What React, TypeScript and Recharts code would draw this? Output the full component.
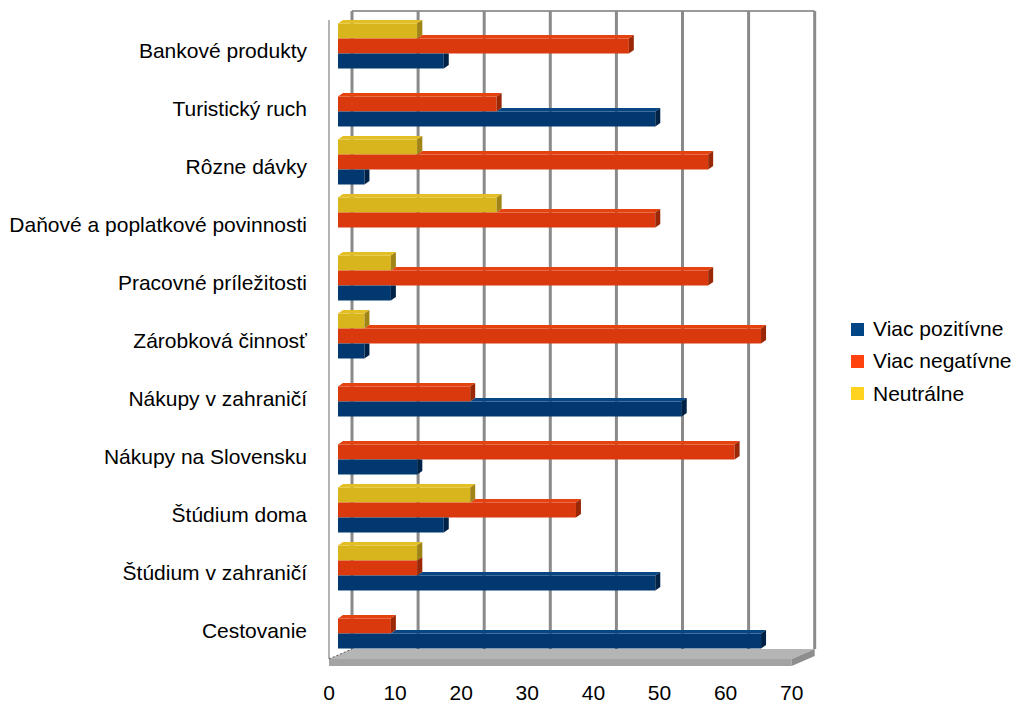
import { BarChart, Bar, XAxis, YAxis, CartesianGrid } from 'recharts';

const categories = [
  'Bankové produkty',
  'Turistický ruch',
  'Rôzne dávky',
  'Daňové a poplatkové povinnosti',
  'Pracovné príležitosti',
  'Zárobková činnosť',
  'Nákupy v zahraničí',
  'Nákupy na Slovensku',
  'Štúdium doma',
  'Štúdium v zahraničí',
  'Cestovanie',
];
const viacPozitivne = [16, 48, 4, 0, 8, 4, 52, 12, 16, 48, 64];
const viacNegativne = [44, 24, 56, 48, 56, 64, 20, 60, 36, 12, 8];
const neutralne = [12, 0, 12, 24, 8, 4, 0, 0, 20, 12, 0];
const xTicks = [0, 10, 20, 30, 40, 50, 60, 70];

const data = categories.map((name, i) => ({
  name,
  poz: viacPozitivne[i],
  neg: viacNegativne[i],
  neu: neutralne[i],
}));

const FONT = '"Liberation Sans", Arial, sans-serif';
const W = 1016;
const H = 704;
const PLOT_LEFT = 338;
const PLOT_RIGHT = 800.7;
const PLOT_TOP = 16.5;
const PLOT_BOTTOM = 654.5;
const X_AXIS_H = 40;

// depth of the 3D box: back wall sits right/up of the bars, axis labels sit left/down
const BACK_DX = 14;
const BACK_DY = -5.5;
const FRONT_DX = -9;
const FRONT_DY = 4.5;
// depth of each bar
const BAR_DX = 5;
const BAR_DY = -3.5;

const series = [
  { key: 'neu', upper: null, name: 'Neutrálne', legend: '#ffd320', front: '#d8b41d', top: '#e3bf24', side: '#a08416' },
  { key: 'neg', upper: 'neu', name: 'Viac negatívne', legend: '#ff420e', front: '#d9390c', top: '#e4420f', side: '#9a2806' },
  { key: 'poz', upper: 'neg', name: 'Viac pozitívne', legend: '#004586', front: '#00386f', top: '#064682', side: '#002246' },
];
const legendOrder = ['poz', 'neg', 'neu'];

const makeShape = (s) => (props) => {
  const { x, y, width, height, payload } = props;
  if (!width || width <= 0) return <g />;
  const value = payload[s.key];
  const upper = s.upper ? payload[s.upper] : 0;
  const end = x + width;
  const upperEnd = x + (width * upper) / value;
  const sx = Math.max(x, upperEnd);
  const covered = upperEnd > end;
  return (
    <g>
      <rect x={x} y={y} width={width} height={height} fill={s.front} />
      {sx < end && (
        <polygon
          points={`${sx},${y} ${end},${y} ${end + BAR_DX},${y + BAR_DY} ${sx + BAR_DX},${y + BAR_DY}`}
          fill={s.top}
        />
      )}
      <polygon
        points={
          covered
            ? `${end},${y} ${end + BAR_DX},${y} ${end + BAR_DX},${y + height + BAR_DY} ${end},${y + height}`
            : `${end},${y} ${end + BAR_DX},${y + BAR_DY} ${end + BAR_DX},${y + height + BAR_DY} ${end},${y + height}`
        }
        fill={s.side}
      />
    </g>
  );
};

const XTick = ({ x, payload }) => (
  <text x={x + FRONT_DX} y={PLOT_BOTTOM + 45} textAnchor="middle" fontSize={21} fontFamily={FONT} fill="#000">
    {payload.value}
  </text>
);

const YTick = ({ y, payload }) => (
  <text x={PLOT_LEFT - 31} y={y + 12.5} textAnchor="end" fontSize={21} fontFamily={FONT} fill="#000">
    {payload.value}
  </text>
);

const LegendBox = () => (
  <div style={{ position: 'absolute', left: 851, top: 313, fontFamily: FONT, fontSize: 21, color: '#000' }}>
    {legendOrder.map((k) => {
      const s = series.find((d) => d.key === k);
      return (
        <div key={k} style={{ display: 'flex', alignItems: 'center', height: 32.3, whiteSpace: 'nowrap' }}>
          <span style={{ width: 13, height: 13, background: s.legend, marginRight: 9, display: 'inline-block' }} />
          <span>{s.name}</span>
        </div>
      );
    })}
  </div>
);

// floor and frame of the 3D box
const Box = () => {
  const backL = PLOT_LEFT + BACK_DX;
  const backR = PLOT_RIGHT + BACK_DX;
  const frontL = PLOT_LEFT + FRONT_DX;
  const frontR = PLOT_RIGHT + FRONT_DX;
  const backY = PLOT_BOTTOM + BACK_DY;
  const frontY = PLOT_BOTTOM + FRONT_DY;
  const topY = PLOT_TOP + BACK_DY;
  return (
    <svg width={W} height={H} style={{ position: 'absolute', left: 0, top: 0 }}>
      <line x1={backL} y1={topY} x2={backR} y2={topY} stroke="#9a9a9a" strokeWidth={2} />
      <line x1={frontL} y1={PLOT_TOP + 3.5} x2={frontL} y2={frontY} stroke="#9a9a9a" strokeWidth={1.5} />
      <polygon points={`${backL},${backY} ${backR},${backY} ${frontR},${frontY} ${frontL},${frontY}`} fill="#b5b5b5" />
      <rect x={frontL} y={frontY} width={frontR - frontL} height={7} fill="#a3a3a3" />
      <polygon points={`${frontR},${frontY} ${backR},${backY} ${backR},${backY + 7} ${frontR},${frontY + 7}`} fill="#8e8e8e" />
      <line x1={frontL} y1={frontY} x2={backL} y2={backY} stroke="#555" strokeWidth={1} strokeDasharray="2 2" />
    </svg>
  );
};

export default function App() {
  return (
    <div style={{ position: 'absolute', left: 0, top: 0, width: W, height: H, background: '#fff' }}>
      <style>{`.recharts-cartesian-grid { transform: translate(${BACK_DX}px, ${BACK_DY}px); }`}</style>
      <Box />
      <div style={{ position: 'absolute', left: 0, top: 0 }}>
        <BarChart
          width={W}
          height={H}
          data={data}
          layout="vertical"
          barSize={15}
          barGap={0}
          margin={{ top: PLOT_TOP, right: W - PLOT_RIGHT, bottom: H - PLOT_BOTTOM - X_AXIS_H, left: 0 }}
        >
          <CartesianGrid horizontal={false} stroke="#8a8a8a" strokeWidth={3} />
          <XAxis
            type="number"
            domain={[0, 70]}
            ticks={xTicks}
            height={X_AXIS_H}
            axisLine={false}
            tickLine={false}
            tick={<XTick />}
          />
          <YAxis type="category" dataKey="name" width={PLOT_LEFT} axisLine={false} tickLine={false} tick={<YTick />} interval={0} />
          {series.map((s) => (
            <Bar key={s.key} dataKey={s.key} name={s.name} fill={s.front} shape={makeShape(s)} isAnimationActive={false} />
          ))}
        </BarChart>
      </div>
      <LegendBox />
    </div>
  );
}
